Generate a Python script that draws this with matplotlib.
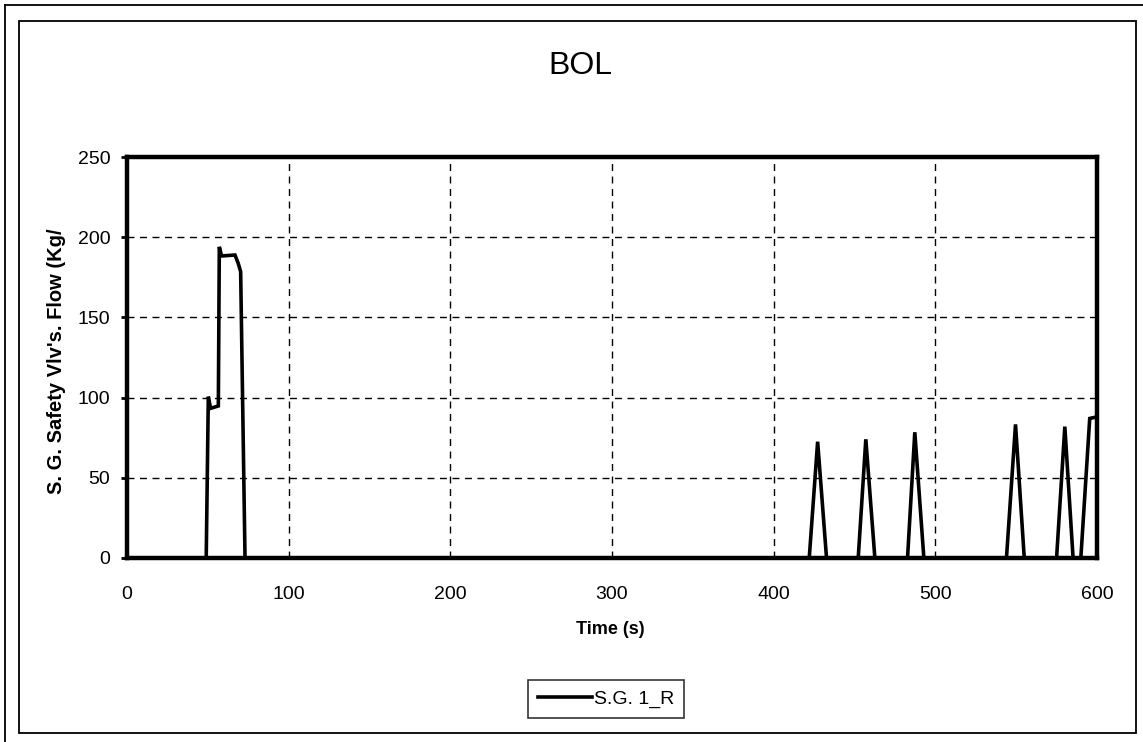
import matplotlib
matplotlib.use("Agg")
import matplotlib.pyplot as plt
from matplotlib.patches import Rectangle
from matplotlib.lines import Line2D

# ---- data ----
time_s = [0, 49.0, 50.3, 51.7, 56.5, 57.1, 58.5, 66.8, 68.8, 70.3, 73.0,
          422.0, 427.2, 432.7,
          452.3, 457.0, 462.6,
          482.8, 487.3, 492.9,
          544.0, 549.6, 555.0,
          575.0, 580.1, 585.2,
          590.0, 595.5, 600.0]
flow = [0, 0, 100.6, 93.3, 94.8, 194.0, 188.3, 188.9, 183.7, 178.5, 0,
        0, 72.5, 0,
        0, 74.0, 0,
        0, 78.4, 0,
        0, 83.3, 0,
        0, 81.9, 0,
        0, 87.0, 88.0]
series_name = "S.G. 1_R"
x_ticks = [0, 100, 200, 300, 400, 500, 600]
y_ticks = [0, 50, 100, 150, 200, 250]

W, H = 1143, 742
plt.rcParams['font.family'] = ['Liberation Sans', 'DejaVu Sans']
fig = plt.figure(figsize=(W / 100, H / 100), dpi=100)

def fx(px):
    return px / W

def fy(py):
    return 1 - py / H

# frames
fig.add_artist(Line2D([fx(5), fx(5)], [fy(5), fy(742)], color='black', lw=1.3))
fig.add_artist(Line2D([fx(5), fx(1143)], [fy(5), fy(5)], color='black', lw=1.3))
fig.add_artist(Rectangle((fx(19), fy(733)), fx(1136) - fx(19), fy(21) - fy(733),
                         fill=False, edgecolor='black', lw=1.3))

ax = fig.add_axes([fx(127), fy(558), fx(1097) - fx(127), fy(157) - fy(558)])
ax.plot(time_s, flow, color='black', lw=2.6, label=series_name, solid_joinstyle='miter')
ax.set_xlim(0, 600)
ax.set_ylim(0, 250)
ax.set_xticks(x_ticks)
ax.set_yticks(y_ticks)
ax.tick_params(axis='x', length=0, pad=20, labelsize=14)
ax.tick_params(axis='y', length=4, width=2, pad=8, labelsize=14)
for s in ax.spines.values():
    s.set_linewidth(3.2)
ax.grid(True, color='black', linestyle=(0, (5, 4)), linewidth=1.0)
ax.set_axisbelow(False)

fig.text(fx(580), fy(66), "BOL", ha='center', va='center', fontsize=23)
fig.text(fx(610), fy(629), "Time (s)", ha='center', va='center', fontsize=13, fontweight='bold')
fig.text(fx(57), fy(361), "S. G. Safety Vlv's. Flow (Kg/", ha='center', va='center',
         rotation=90, fontsize=14.5, fontweight='bold')

leg = fig.legend(loc='center', bbox_to_anchor=(fx(606), fy(699)), frameon=True,
                 fancybox=False, edgecolor='black', fontsize=14, handlelength=2.8,
                 handletextpad=0.1, borderpad=0.5)
leg.get_frame().set_linewidth(1.2)

fig.savefig("out.png", dpi=100)
